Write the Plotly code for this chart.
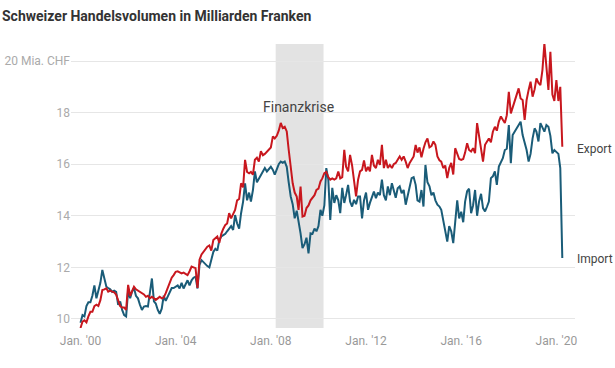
import pandas as pd
import plotly.graph_objects as go

# Monthly values, Jan 2000 - Apr 2020 (billion CHF)
export_values = [
    9.65, 9.9, 9.95, 9.87, 10.1, 10.28, 10.28, 10.5, 10.55, 10.5, 10.73, 11.12,      # 2000
    11.15, 11.19, 11.06, 11.1, 11.06, 11.03, 10.95, 10.7, 10.5, 10.44, 10.44, 10.35,  # 2001
    11.32, 10.9, 11.1, 11.25, 11.15, 11.1, 11.05, 11.0, 10.95, 10.86, 10.9, 10.8,     # 2002
    10.86, 10.8, 10.74, 10.8, 10.86, 10.8, 10.83, 11.0, 11.19, 11.35, 11.6, 11.7,     # 2003
    11.83, 11.85, 11.8, 11.77, 11.8, 11.75, 11.7, 11.85, 12.03, 12.0, 11.97, 11.2,    # 2004
    12.3, 12.5, 12.6, 12.7, 12.8, 12.85, 12.65, 13.06, 13.15, 13.2, 12.95, 13.3,      # 2005
    13.5, 13.65, 13.7, 14.1, 13.9, 14.05, 14.23, 14.6, 14.65, 15.26, 15.1, 16.17,     # 2006
    15.7, 15.65, 15.7, 15.6, 16.17, 16.25, 16.1, 16.5, 16.35, 16.4, 16.5, 16.56,      # 2007
    16.65, 17.08, 17.0, 17.1, 17.3, 17.6, 17.4, 17.45, 17.27, 16.56, 15.85, 15.26,    # 2008
    14.9, 14.75, 14.23, 15.13, 13.97, 14.0, 14.3, 14.4, 14.6, 14.68, 14.8, 15.0,      # 2009
    15.05, 15.33, 15.45, 15.65, 15.7, 15.5, 15.4, 15.45, 15.4, 15.45, 15.72, 15.45,   # 2010
    15.5, 16.56, 15.9, 15.72, 16.36, 15.95, 15.4, 14.75, 15.4, 15.72, 15.78, 16.15,   # 2011
    15.72, 15.9, 15.72, 16.36, 15.95, 15.85, 16.17, 15.97, 16.75, 15.85, 16.17, 15.85, # 2012
    15.97, 15.85, 16.0, 16.05, 16.17, 16.3, 16.17, 16.3, 16.1, 15.85, 16.05, 16.17,   # 2013
    16.3, 16.75, 16.45, 16.65, 16.27, 16.6, 16.85, 17.0, 16.65, 16.7, 16.88, 16.75,   # 2014
    16.3, 16.15, 16.1, 15.85, 15.95, 15.46, 15.85, 16.05, 15.6, 16.62, 16.4, 16.2,    # 2015
    16.17, 16.2, 16.45, 16.81, 16.55, 16.49, 16.62, 16.43, 17.59, 17.13, 16.55, 16.1, # 2016
    16.75, 16.88, 17.0, 16.85, 17.26, 17.45, 17.3, 17.65, 17.85, 17.72, 17.6, 17.9,   # 2017
    18.81, 17.97, 18.2, 18.45, 18.75, 18.94, 18.55, 18.49, 17.72, 18.49, 18.88, 19.2, # 2018
    18.62, 18.9, 19.33, 19.15, 19.07, 19.65, 20.68, 19.7, 18.88, 20.36, 18.7, 18.45,  # 2019
    19.26, 18.45, 19.0, 16.68,                                                        # 2020
]

import_values = [
    9.85, 10.15, 10.1, 10.5, 10.65, 10.65, 10.9, 11.3, 10.8, 11.05, 11.4, 11.9,       # 2000
    11.5, 11.25, 11.2, 11.15, 11.05, 11.1, 11.05, 10.55, 10.68, 10.35, 10.15, 10.1,   # 2001
    11.1, 10.8, 11.05, 11.2, 10.9, 10.8, 10.55, 10.35, 10.48, 10.5, 10.48, 11.05,     # 2002
    11.57, 10.68, 10.6, 10.35, 10.2, 10.4, 10.9, 10.7, 10.85, 11.05, 11.2, 11.2,      # 2003
    11.25, 11.3, 11.18, 11.4, 11.18, 11.35, 11.5, 11.3, 11.5, 11.6, 11.64, 11.18,     # 2004
    12.1, 12.28, 12.2, 12.15, 12.05, 12.0, 12.3, 12.6, 12.72, 12.65, 13.06, 13.2,     # 2005
    13.25, 13.3, 13.4, 13.5, 13.6, 13.45, 14.03, 13.7, 13.5, 14.1, 14.55, 15.26,      # 2006
    14.6, 14.9, 14.55, 15.0, 15.72, 15.3, 15.45, 15.55, 15.72, 15.85, 15.72, 15.8,    # 2007
    15.9, 15.78, 15.6, 15.8, 16.0, 16.1, 16.05, 16.1, 15.9, 15.3, 14.75, 14.45,       # 2008
    13.9, 14.2, 13.8, 13.32, 12.75, 12.9, 13.15, 12.54, 13.32, 13.3, 13.5, 13.4,      # 2009
    13.6, 14.23, 14.0, 14.4, 15.85, 15.4, 13.84, 15.08, 14.5, 14.8, 14.6, 14.1,       # 2010
    15.08, 14.5, 14.8, 15.2, 14.55, 14.36, 14.62, 14.45, 14.75, 14.75, 13.9, 14.6,    # 2011
    14.9, 14.23, 14.5, 14.7, 14.94, 14.68, 14.9, 14.8, 15.4, 14.8, 14.6, 15.14,       # 2012
    14.8, 15.26, 14.94, 14.7, 15.07, 15.14, 14.87, 15.0, 14.43, 14.8, 15.07, 15.46,   # 2013
    15.5, 15.2, 14.6, 14.55, 15.0, 14.36, 15.97, 15.3, 15.14, 14.8, 14.9, 14.6,       # 2014
    14.43, 14.36, 14.23, 13.85, 13.4, 13.0, 13.6, 13.4, 12.94, 13.8, 14.6, 13.9,      # 2015
    14.16, 13.75, 14.55, 14.95, 15.05, 14.1, 14.4, 15.0, 14.0, 14.55, 14.85, 14.3,    # 2016
    14.17, 14.36, 14.55, 15.46, 15.53, 15.72, 15.2, 15.91, 16.1, 16.23, 16.55, 16.6,  # 2017
    17.52, 16.04, 17.13, 17.26, 17.39, 17.52, 17.65, 17.13, 16.81, 16.55, 16.1, 16.4, # 2018
    17.0, 17.39, 17.26, 16.88, 17.59, 17.45, 17.26, 17.52, 17.45, 17.1, 16.42, 16.55, # 2019
    16.49, 16.4, 15.85, 12.36,                                                        # 2020
]

start_month = "2000-01-01"
tick_dates = ["2000-01-01", "2004-01-01", "2008-01-01", "2012-01-01", "2016-01-01", "2020-01-01"]
tick_labels = ["Jan. '00", "Jan. '04", "Jan. '08", "Jan. '12", "Jan. '16", "Jan. '20"]
y_ticks = [10, 12, 14, 16, 18, 20]
y_labels = ["10", "12", "14", "16", "18", "20 Mia. CHF"]
crisis_period = ["2008-03-15", "2010-03-20"]

dates = pd.date_range(start_month, periods=len(export_values), freq="MS")

RED = "#c8171e"
BLUE = "#1a5c78"
FONT = "Roboto"

fig = go.Figure()
fig.add_trace(go.Scatter(x=dates, y=import_values, mode="lines", name="Import",
                         line=dict(color=BLUE, width=2), hoverinfo="skip"))
fig.add_trace(go.Scatter(x=dates, y=export_values, mode="lines", name="Export",
                         line=dict(color=RED, width=2), hoverinfo="skip"))

fig.add_shape(type="rect", xref="x", yref="paper", x0=crisis_period[0], x1=crisis_period[1],
              y0=0, y1=1, fillcolor="#e3e3e3", line=dict(width=0), layer="below")

fig.add_annotation(x="2009-03-01", y=18.22, text="Finanzkrise", showarrow=False,
                   font=dict(family=FONT, size=14, color="#444444"))
fig.add_annotation(xref="paper", x=1, xanchor="left", y=16.6, yanchor="middle",
                   text="Export", showarrow=False, font=dict(family=FONT, size=12, color="#444444"))
fig.add_annotation(xref="paper", x=1, xanchor="left", y=12.33, yanchor="middle",
                   text="Import", showarrow=False, font=dict(family=FONT, size=12, color="#444444"))

fig.update_layout(
    width=615, height=368,
    margin=dict(l=71, r=40, t=44, b=40, autoexpand=False),
    paper_bgcolor="white", plot_bgcolor="white",
    showlegend=False,
    title=dict(text="<b>Schweizer Handelsvolumen in Milliarden Franken</b>",
               x=2 / 615, xanchor="left", xref="container",
               y=1 - 16 / 368, yanchor="middle", yref="container",
               font=dict(family=FONT, size=14, color="#333333")),
    font=dict(family=FONT),
    xaxis=dict(range=["1999-08-08", "2020-10-13"], showgrid=False, zeroline=False,
               showline=False, tickvals=tick_dates, ticktext=tick_labels, automargin=False,
               ticklabelstandoff=4,
               tickfont=dict(family=FONT, size=12, color="#999999"), ticks=""),
    yaxis=dict(range=[9.65, 20.66], showgrid=True, gridcolor="#e6e6e6", gridwidth=1,
               zeroline=False, showline=False, tickvals=y_ticks, ticktext=y_labels, automargin=False,
               tickfont=dict(family=FONT, size=12, color="#aaaaaa"), ticks=""),
)

fig.write_html("out.html", config={"displayModeBar": False},
               post_script="document.body.style.margin='0';")
